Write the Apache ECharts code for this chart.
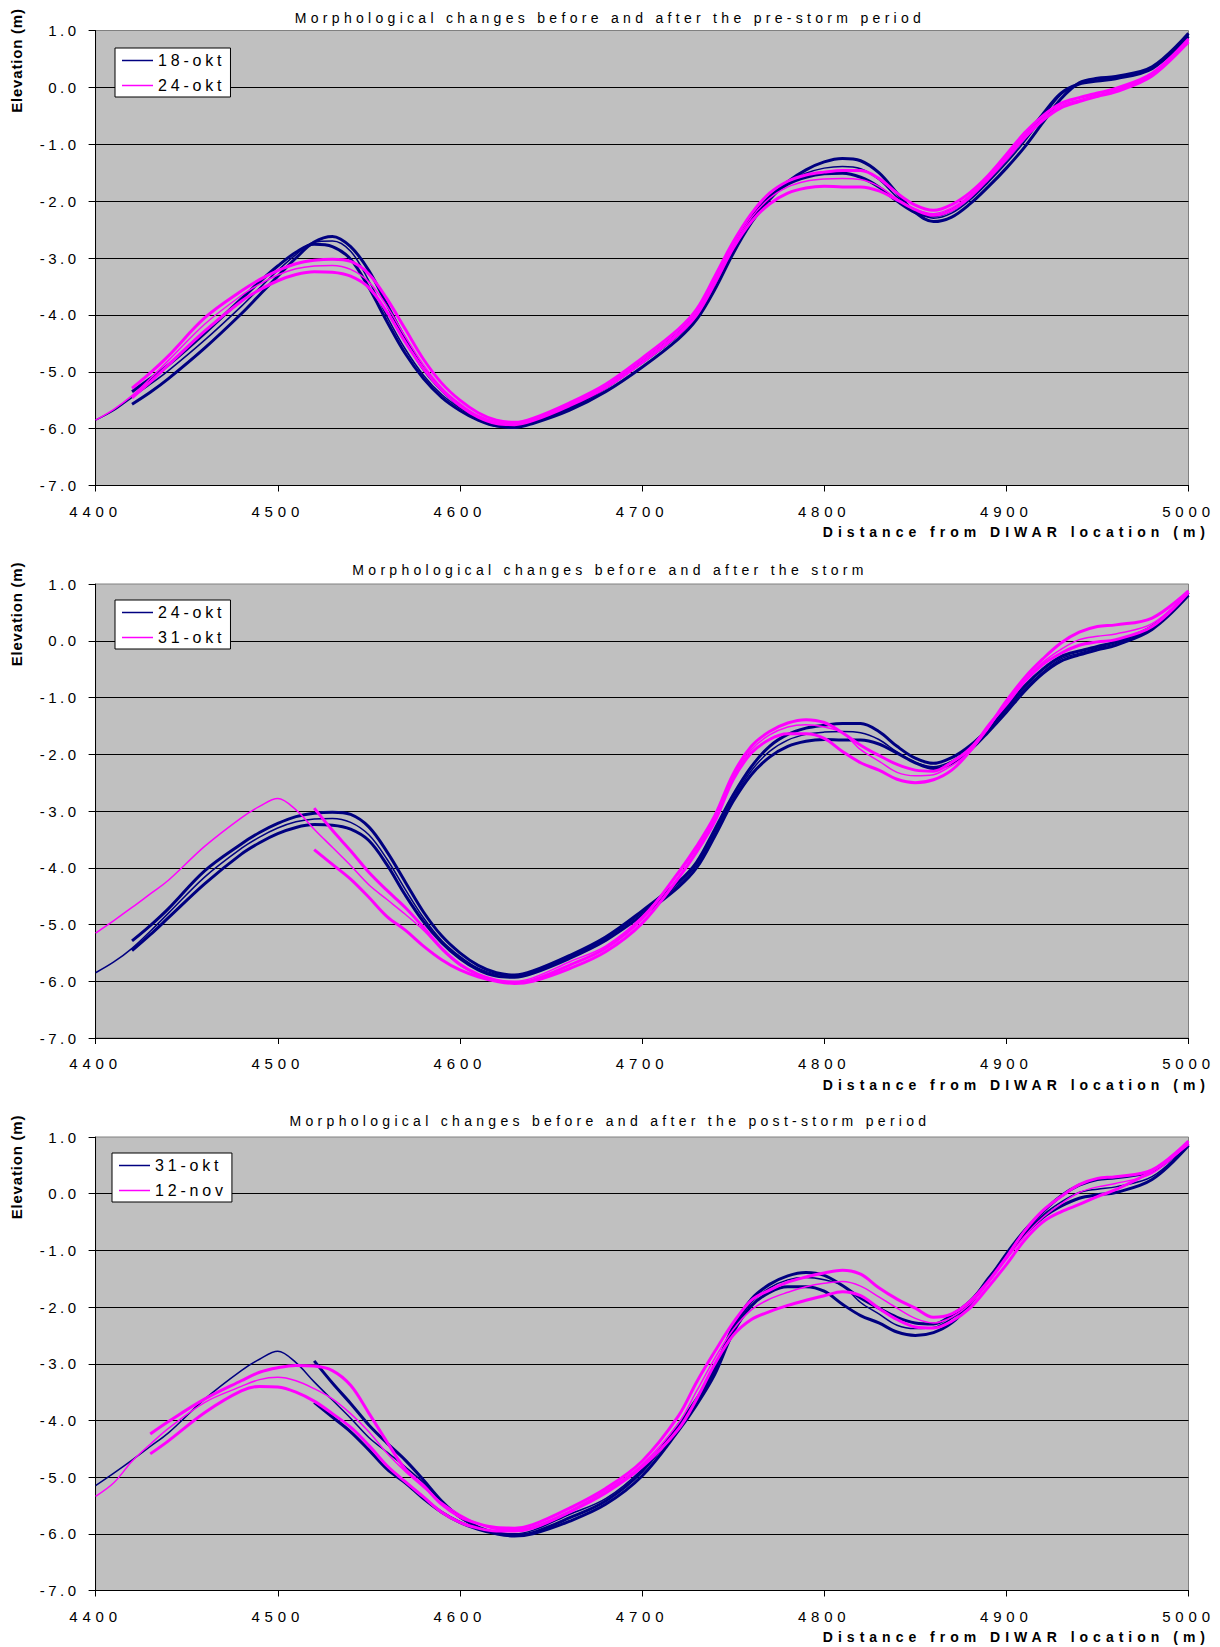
<!DOCTYPE html>
<html>
<head>
<meta charset="utf-8">
<script src="https://cdn.jsdelivr.net/npm/echarts@6/dist/echarts.min.js"></script>
<style>
  html, body { margin: 0; padding: 0; background: #fff; }
  #chart { width: 1220px; height: 1647px; }
</style>
</head>
<body>
<div id="chart"></div>
<script>
// ---------- DATA ----------
// Distance along profile (m) shared by all transects
const X = [4400, 4410, 4420, 4430, 4440, 4460, 4480,
  4490, 4500, 4510, 4520, 4530, 4540, 4550, 4560, 4570, 4580, 4590, 4600, 4610, 4620, 4630, 4640,
  4660, 4680, 4700, 4720,
  4730, 4740, 4750, 4760, 4770, 4780, 4790, 4800, 4810, 4820, 4830, 4840, 4850, 4860, 4870, 4880, 4890, 4900, 4910, 4920, 4930, 4940, 4950, 4960,
  4980, 5000];

// 18-okt (three transects)
const okt18_thin = [-5.85, -5.68, -5.45, -5.22, -4.98, -4.44, -3.85,
  -3.53, -3.22, -2.94, -2.72, -2.70, -2.88, -3.40, -4.03, -4.60, -5.06, -5.40, -5.64, -5.83, -5.93, -5.95, -5.87,
  -5.62, -5.28, -4.85, -4.36,
  -4.02, -3.47, -2.86, -2.32, -1.94, -1.67, -1.51, -1.42, -1.39, -1.43, -1.62, -1.93, -2.17, -2.30, -2.21, -1.98, -1.67, -1.33, -0.95, -0.53, -0.13, 0.07, 0.13, 0.17,
  0.34, 0.92];
const okt18_a = [null, null, -5.57, -5.36, -5.12, -4.58, -3.98,
  -3.65, -3.32, -3.00, -2.72, -2.62, -2.80, -3.22, -3.82, -4.42, -4.95, -5.32, -5.60, -5.82, -5.95, -5.98, -5.91,
  -5.68, -5.35, -4.92, -4.42,
  -4.08, -3.55, -2.92, -2.38, -1.97, -1.66, -1.45, -1.31, -1.25, -1.29, -1.50, -1.86, -2.20, -2.36, -2.28, -2.05, -1.75, -1.42, -1.05, -0.62, -0.20, 0.08, 0.16, 0.19,
  0.36, 0.95];
const okt18_b = [null, null, -5.35, -5.12, -4.88, -4.32, -3.72,
  -3.42, -3.14, -2.90, -2.76, -2.80, -3.02, -3.52, -4.12, -4.68, -5.12, -5.45, -5.68, -5.85, -5.95, -5.96, -5.88,
  -5.64, -5.28, -4.82, -4.32,
  -3.98, -3.42, -2.82, -2.28, -1.92, -1.70, -1.58, -1.52, -1.51, -1.58, -1.75, -2.00, -2.20, -2.26, -2.16, -1.93, -1.62, -1.27, -0.88, -0.47, -0.10, 0.06, 0.11, 0.15,
  0.33, 0.90];

// 24-okt
const okt24_thin = [-5.85, -5.66, -5.42, -5.12, -4.80, -4.16, -3.66,
  -3.46, -3.30, -3.19, -3.14, -3.13, -3.20, -3.42, -3.85, -4.38, -4.88, -5.28, -5.56, -5.77, -5.88, -5.91, -5.84,
  -5.58, -5.25, -4.80, -4.30,
  -3.95, -3.38, -2.78, -2.29, -1.95, -1.75, -1.65, -1.61, -1.60, -1.62, -1.74, -1.96, -2.14, -2.22, -2.12, -1.90, -1.58, -1.22, -0.85, -0.55, -0.32, -0.22, -0.13, -0.05,
  0.22, 0.82];
const okt24_a = [null, null, -5.29, -5.02, -4.72, -4.05, -3.58,
  -3.38, -3.22, -3.10, -3.04, -3.02, -3.06, -3.28, -3.72, -4.25, -4.78, -5.20, -5.50, -5.72, -5.85, -5.89, -5.82,
  -5.55, -5.22, -4.76, -4.25,
  -3.90, -3.32, -2.72, -2.22, -1.86, -1.65, -1.54, -1.49, -1.46, -1.46, -1.60, -1.86, -2.07, -2.16, -2.06, -1.85, -1.55, -1.18, -0.80, -0.50, -0.28, -0.18, -0.10, -0.02,
  0.25, 0.85];
const okt24_b = [null, null, -5.46, -5.18, -4.88, -4.28, -3.76,
  -3.56, -3.40, -3.29, -3.24, -3.25, -3.32, -3.52, -3.95, -4.48, -4.95, -5.32, -5.60, -5.80, -5.91, -5.93, -5.86,
  -5.60, -5.28, -4.84, -4.34,
  -4.00, -3.44, -2.83, -2.36, -2.05, -1.86, -1.77, -1.74, -1.75, -1.75, -1.82, -1.98, -2.15, -2.25, -2.16, -1.93, -1.61, -1.26, -0.89, -0.58, -0.36, -0.25, -0.16, -0.08,
  0.20, 0.80];

// 31-okt
const okt31_thin = [-5.15, -4.93, -4.70, -4.46, -4.22, -3.62, -3.12,
  -2.92, -2.78, -2.98, -3.32, -3.64, -3.96, -4.30, -4.56, -4.82, -5.10, -5.44, -5.72, -5.88, -5.98, -6.00, -5.94,
  -5.66, -5.38, -4.86, -4.10,
  -3.66, -3.12, -2.40, -1.92, -1.66, -1.52, -1.48, -1.52, -1.62, -1.92, -2.12, -2.32, -2.38, -2.36, -2.20, -1.95, -1.55, -1.08, -0.70, -0.38, -0.15, 0.02, 0.08, 0.12,
  0.30, 0.86];
const okt31_a = [null, null, null, null, null, null, null,
  null, null, null, -2.95, -3.34, -3.70, -4.08, -4.40, -4.70, -5.05, -5.42, -5.70, -5.88, -5.98, -6.02, -5.98,
  -5.72, -5.42, -4.90, -4.08,
  -3.62, -3.08, -2.35, -1.86, -1.60, -1.45, -1.39, -1.44, -1.62, -1.84, -2.02, -2.18, -2.28, -2.30, -2.14, -1.90, -1.52, -1.06, -0.65, -0.32, -0.04, 0.15, 0.25, 0.28,
  0.40, 0.88];
const okt31_b = [null, null, null, null, null, null, null,
  null, null, null, -3.68, -3.94, -4.20, -4.52, -4.86, -5.10, -5.38, -5.62, -5.80, -5.92, -6.00, -6.04, -6.00,
  -5.78, -5.48, -4.98, -4.18,
  -3.72, -3.18, -2.45, -1.98, -1.74, -1.64, -1.64, -1.72, -1.95, -2.15, -2.28, -2.44, -2.50, -2.45, -2.28, -1.95, -1.50, -1.12, -0.72, -0.42, -0.22, -0.08, -0.02, 0.02,
  0.25, 0.85];

// 12-nov
const nov12_thin = [-5.34, -5.10, -4.72, -4.42, -4.14, -3.68, -3.40,
  -3.28, -3.24, -3.30, -3.44, -3.62, -3.88, -4.20, -4.58, -4.90, -5.18, -5.45, -5.66, -5.82, -5.92, -5.93, -5.88,
  -5.60, -5.24, -4.78, -4.05,
  -3.48, -2.90, -2.40, -2.05, -1.86, -1.74, -1.64, -1.58, -1.55, -1.63, -1.82, -2.02, -2.20, -2.28, -2.18, -1.95, -1.58, -1.16, -0.75, -0.42, -0.18, 0.02, 0.12, 0.18,
  0.36, 0.90];
const nov12_a = [null, null, null, -4.24, -4.02, -3.62, -3.30,
  -3.15, -3.07, -3.03, -3.04, -3.12, -3.38, -3.87, -4.38, -4.86, -5.15, -5.48, -5.70, -5.82, -5.89, -5.90, -5.84,
  -5.55, -5.20, -4.72, -3.92,
  -3.32, -2.78, -2.28, -1.88, -1.70, -1.56, -1.47, -1.40, -1.35, -1.42, -1.66, -1.86, -2.02, -2.18, -2.12, -1.90, -1.55, -1.12, -0.66, -0.30, -0.05, 0.16, 0.27, 0.30,
  0.42, 0.93];
const nov12_b = [null, null, null, -4.59, -4.36, -3.86, -3.48,
  -3.40, -3.41, -3.50, -3.66, -3.88, -4.12, -4.44, -4.80, -5.08, -5.35, -5.62, -5.80, -5.90, -5.95, -5.95, -5.90,
  -5.62, -5.28, -4.82, -4.15,
  -3.62, -3.00, -2.50, -2.22, -2.08, -1.97, -1.88, -1.80, -1.73, -1.80, -2.02, -2.22, -2.35, -2.37, -2.25, -2.02, -1.65, -1.25, -0.82, -0.50, -0.32, -0.19, -0.05, 0.07,
  0.40, 0.88];

const DATES = ['18-okt', '24-okt', '31-okt', '12-nov'];
const TITLES = [
  'Morphological changes before and after the pre-storm period',
  'Morphological changes before and after the storm',
  'Morphological changes before and after the post-storm period'
];
const X_NAME = 'Distance from DIWAR location (m)';
const Y_NAME = 'Elevation (m)';
const X_TICKS = [4400, 4500, 4600, 4700, 4800, 4900, 5000];
const Y_TICKS = [-7, -6, -5, -4, -3, -2, -1, 0, 1];

const SURVEYS = {
  '18-okt': [okt18_thin, okt18_a, okt18_b],
  '24-okt': [okt24_thin, okt24_a, okt24_b],
  '31-okt': [okt31_thin, okt31_a, okt31_b],
  '12-nov': [nov12_thin, nov12_a, nov12_b]
};

// ---------- STYLE / LAYOUT ----------
const NAVY = '#000080', MAG = '#FF00FF';
const FONT = 'Liberation Sans';
const WIDTHS = [1.5, 3, 3];
const PANEL_TOP = [30.5, 584, 1137];
const PANEL_H = [455, 454, 453.5];
const LEG_POS = [[115, 48], [115, 600], [112, 1153]];
const GRID_LEFT = 95.6, GRID_RIGHT = 31.5;

Object.keys(SURVEYS).forEach(k => SURVEYS[k].forEach((a, i) => {
  if (a.length !== X.length) throw new Error(k + '#' + i + ' length ' + a.length + ' != ' + X.length);
}));

function pairs(ys) {
  const out = [];
  ys.forEach((y, i) => { if (y !== null) out.push([X[i], y]); });
  return out;
}

const grids = [], xAxes = [], yAxes = [], series = [], legends = [], titles = [], graphics = [];
for (let p = 0; p < 3; p++) {
  const top = PANEL_TOP[p], h = PANEL_H[p];
  grids.push({ left: GRID_LEFT, right: GRID_RIGHT, top: top, height: h,
    show: true, backgroundColor: '#C0C0C0', borderColor: '#808080', borderWidth: 1, containLabel: false });
  xAxes.push({ type: 'value', gridIndex: p, min: X_TICKS[0], max: X_TICKS[X_TICKS.length - 1], interval: 100,
    axisLine: { show: true, onZero: false, lineStyle: { color: '#000', width: 1 } },
    axisTick: { show: true, inside: false, length: 6, lineStyle: { color: '#000' } },
    axisLabel: { show: true, margin: 18, color: '#000', fontSize: 15, fontFamily: FONT, formatter: v => String(v) },
    splitLine: { show: false } });
  yAxes.push({ type: 'value', gridIndex: p, min: Y_TICKS[0], max: Y_TICKS[Y_TICKS.length - 1], interval: 1,
    axisLine: { show: true, onZero: false, lineStyle: { color: '#000', width: 1 } },
    axisTick: { show: true, inside: false, length: 7, lineStyle: { color: '#000' } },
    axisLabel: { show: true, margin: 16, color: '#000', fontSize: 15, fontFamily: FONT, formatter: v => v.toFixed(1) },
    splitLine: { show: true, showMaxLine: false, lineStyle: { color: '#000', width: 1 } } });
  const dA = DATES[p], dB = DATES[p + 1];
  [[dA, NAVY], [dB, MAG]].forEach(([d, col]) => {
    SURVEYS[d].forEach((ys, i) => {
      series.push({ type: 'line', name: d, xAxisIndex: p, yAxisIndex: p, data: pairs(ys),
        symbol: 'none', showSymbol: false, smooth: 0.35, silent: true, animation: false,
        lineStyle: { color: col, width: WIDTHS[i] }, itemStyle: { color: col } });
    });
  });
  legends.push({ orient: 'vertical', left: LEG_POS[p][0], top: LEG_POS[p][1],
    data: [
      { name: dA, icon: 'rect', itemStyle: { color: NAVY, borderWidth: 0 } },
      { name: dB, icon: 'rect', itemStyle: { color: MAG, borderWidth: 0 } }
    ],
    itemWidth: 31, itemHeight: 1.5, itemGap: 8, padding: [4, 28, 3, 7],
    backgroundColor: '#fff', borderColor: '#000', borderWidth: 1, borderRadius: 0,
    textStyle: { fontSize: 16, color: '#000', fontFamily: FONT, lineHeight: 17 },
    selectedMode: false });
  titles.push({ text: TITLES[p], left: 'center', top: [11, 563, 1114][p], padding: 0,
    textStyle: { fontSize: 14, fontWeight: 'normal', color: '#000', fontFamily: FONT } });
  graphics.push({ type: 'text', x: 1210, y: top + h + 46.5,
    style: { text: X_NAME, align: 'right', verticalAlign: 'middle', fill: '#000',
      fontSize: 14, fontWeight: 'bold', fontFamily: FONT } });
  graphics.push({ type: 'text', x: 16.5, y: top + 30, rotation: Math.PI / 2,
    style: { text: Y_NAME, align: 'center', verticalAlign: 'middle', fill: '#000',
      fontSize: 15, fontWeight: 'bold', fontFamily: FONT } });
}

const chart = echarts.init(document.getElementById('chart'), null, { renderer: 'svg' });
chart.setOption({
  animation: false,
  backgroundColor: '#fff',
  textStyle: { fontFamily: FONT },
  title: titles,
  legend: legends,
  grid: grids,
  xAxis: xAxes,
  yAxis: yAxes,
  series: series,
  graphic: graphics
});

// Excel-like letter spacing of the original texts
function applySpacing() {
  document.querySelectorAll('#chart svg text').forEach(t => {
    const s = (t.textContent || '').trim();
    let ls = '3.5px';
    if (s.indexOf('Morphological') === 0) ls = '4.3px';
    else if (s.indexOf('Distance') === 0) ls = '5px';
    else if (s.indexOf('Elevation') === 0) ls = '0.8px';
    else if (/-(okt|nov)$/.test(s)) ls = '3.8px';
    else if (/^\d{4}$/.test(s)) ls = '4.8px';
    t.style.letterSpacing = ls;
  });
}
applySpacing();
chart.on('finished', applySpacing);
setTimeout(applySpacing, 0);
setTimeout(applySpacing, 50);
</script>
</body>
</html>
